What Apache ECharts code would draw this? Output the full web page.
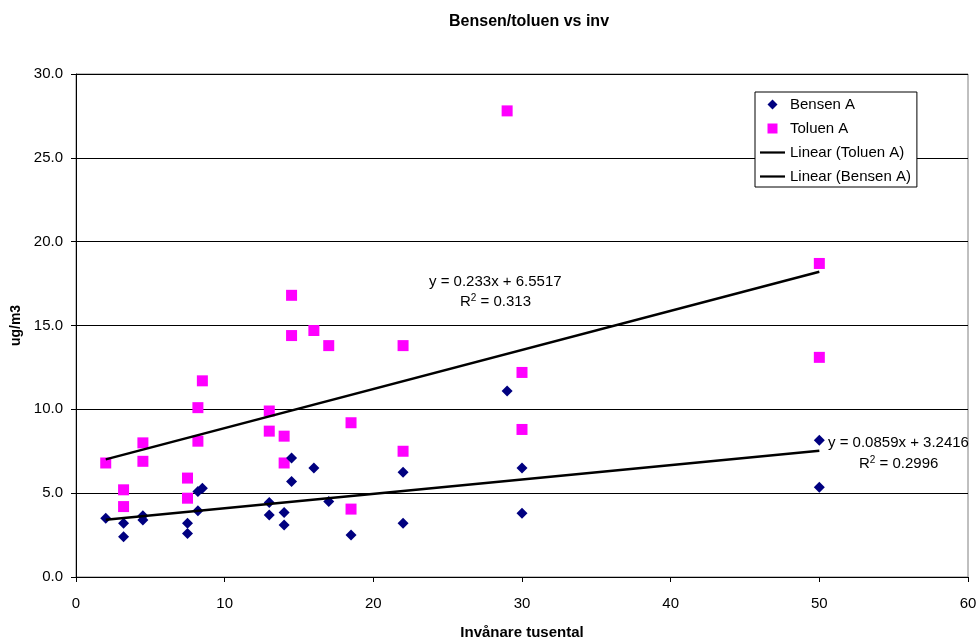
<!DOCTYPE html>
<html>
<head>
<meta charset="utf-8">
<script src="https://cdn.jsdelivr.net/npm/echarts@6/dist/echarts.min.js"></script>
<style>
  html, body { margin: 0; padding: 0; background: #fff; }
  #main { width: 980px; height: 639px; }
</style>
</head>
<body>
<div id="main"></div>
<script>
var benX = [2, 3.2, 3.2, 4.5, 4.5, 7.5, 7.5, 8.2, 8.2, 8.5, 13, 13, 14, 14, 14.5, 14.5, 16, 17, 18.5, 22, 22, 29, 30, 30, 50, 50];
var benY = [3.5, 3.2, 2.4, 3.65, 3.4, 3.2, 2.6, 3.95, 5.1, 5.3, 4.45, 3.7, 3.85, 3.1, 7.1, 5.7, 6.5, 4.5, 2.5, 6.25, 3.2, 11.1, 6.5, 3.8, 8.15, 5.35];
var tolX = [2, 3.2, 3.2, 4.5, 4.5, 7.5, 7.5, 8.2, 8.2, 8.5, 13, 13, 14, 14, 14.5, 14.5, 16, 17, 18.5, 18.5, 22, 22, 29, 30, 30, 50, 50];
var tolY = [6.8, 5.2, 4.2, 8.0, 6.9, 5.9, 4.7, 10.1, 8.1, 11.7, 9.9, 8.7, 8.4, 6.8, 16.8, 14.4, 14.7, 13.8, 9.2, 4.05, 13.8, 7.5, 27.8, 12.2, 8.8, 18.7, 13.1];
// trendline coefficients as printed on the chart [slope, intercept]
var tolTrend = [0.233, 6.5517];
var benTrend = [0.0859, 3.2416];
var xTicks = [0, 10, 20, 30, 40, 50, 60];
var yTicks = [0, 5, 10, 15, 20, 25, 30];

var font = 'Arial, "Liberation Sans", sans-serif';

function pairs(xs, ys) {
  return xs.map(function (x, i) { return [x, ys[i]]; });
}
function trend(xs, c) {
  var lo = Math.min.apply(null, xs), hi = Math.max.apply(null, xs);
  return [[lo, c[0] * lo + c[1]], [hi, c[0] * hi + c[1]]];
}

// legend icons drawn in a 25x12 box (the leading moves keep the box size)
var iconDiamond = 'path://M0,0M25,12M12.5,1L17.5,6L12.5,11L7.5,6Z';
var iconSquare = 'path://M0,0M25,12M7.5,1H17.5V11H7.5Z';
var iconLine = 'path://M0,0M25,12M0,4.75H28V7.25H0Z';

var chart = echarts.init(document.getElementById('main'));
var option = {
  animation: false,
  backgroundColor: '#fff',
  title: {
    text: 'Bensen/toluen vs inv',
    left: 449,
    top: 14,
    padding: 0,
    textStyle: { fontFamily: font, fontSize: 16, fontWeight: 'bold', color: '#000' }
  },
  grid: {
    left: 76, right: 12, top: 74, bottom: 62,
    outerBoundsMode: 'none',
    containLabel: false,
    show: true, borderColor: '#808080', borderWidth: 1
  },
  legend: {
    orient: 'vertical',
    left: 755,
    top: 92,
    padding: [5, 6, 3, 5],
    itemWidth: 25,
    itemHeight: 12,
    itemGap: 9,
    borderColor: '#000',
    borderWidth: 1,
    backgroundColor: '#fff',
    textStyle: { fontFamily: font, fontSize: 15, color: '#000', lineHeight: 15 },
    data: [
      { name: 'Bensen A', icon: iconDiamond },
      { name: 'Toluen A', icon: iconSquare },
      { name: 'Linear (Toluen A)', icon: iconLine },
      { name: 'Linear (Bensen A)', icon: iconLine }
    ]
  },
  xAxis: {
    type: 'value',
    min: xTicks[0],
    max: xTicks[xTicks.length - 1],
    interval: 10,
    name: 'Invånare tusental',
    nameLocation: 'middle',
    nameGap: 48,
    nameTextStyle: { fontFamily: font, fontSize: 15, fontWeight: 'bold', color: '#000' },
    axisLine: { lineStyle: { color: '#000', width: 1 } },
    axisTick: { inside: false, length: 5, lineStyle: { color: '#000' } },
    axisLabel: { margin: 19, fontFamily: font, fontSize: 15, color: '#000' },
    splitLine: { show: false }
  },
  yAxis: {
    type: 'value',
    min: yTicks[0],
    max: yTicks[yTicks.length - 1],
    interval: 5,
    name: 'ug/m3',
    nameLocation: 'middle',
    nameGap: 49,
    nameTextStyle: { fontFamily: font, fontSize: 14, fontWeight: 'bold', color: '#000' },
    axisLine: { show: true, lineStyle: { color: '#000', width: 1 } },
    axisTick: { show: true, inside: false, length: 5, lineStyle: { color: '#000' } },
    axisLabel: {
      margin: 13, fontFamily: font, fontSize: 15, color: '#000',
      formatter: function (v) { return v.toFixed(1); }
    },
    splitLine: { show: true, lineStyle: { color: '#000', width: 1 } }
  },
  series: [
    {
      name: 'Toluen A',
      type: 'scatter',
      symbol: 'rect',
      symbolSize: 11,
      itemStyle: { color: '#ff00ff', opacity: 1 },
      z: 2,
      data: pairs(tolX, tolY)
    },
    {
      name: 'Bensen A',
      type: 'scatter',
      symbol: 'diamond',
      symbolSize: 11,
      itemStyle: { color: '#000080', opacity: 1 },
      z: 3,
      data: pairs(benX, benY)
    },
    {
      name: 'Linear (Toluen A)',
      type: 'line',
      symbol: 'none',
      z: 4,
      lineStyle: { color: '#000', width: 2.5 },
      itemStyle: { color: '#000' },
      data: trend(tolX, tolTrend)
    },
    {
      name: 'Linear (Bensen A)',
      type: 'line',
      symbol: 'none',
      z: 4,
      lineStyle: { color: '#000', width: 2.5 },
      itemStyle: { color: '#000' },
      data: trend(benX, benTrend)
    }
  ],
  graphic: [
    {
      type: 'text', left: 429, top: 274,
      style: { text: 'y = 0.233x + 6.5517', font: '15px ' + font, fill: '#000' }
    },
    {
      type: 'text', left: 460, top: 293,
      style: {
        text: 'R{s|2} = 0.313', font: '15px ' + font, fill: '#000',
        rich: { s: { fontSize: 10, padding: [0, 0, 8, 0], fontFamily: font } }
      }
    },
    {
      type: 'text', left: 828, top: 435,
      style: { text: 'y = 0.0859x + 3.2416', font: '15px ' + font, fill: '#000' }
    },
    {
      type: 'text', left: 859, top: 455,
      style: {
        text: 'R{s|2} = 0.2996', font: '15px ' + font, fill: '#000',
        rich: { s: { fontSize: 10, padding: [0, 0, 8, 0], fontFamily: font } }
      }
    }
  ]
};
chart.setOption(option);
</script>
</body>
</html>
